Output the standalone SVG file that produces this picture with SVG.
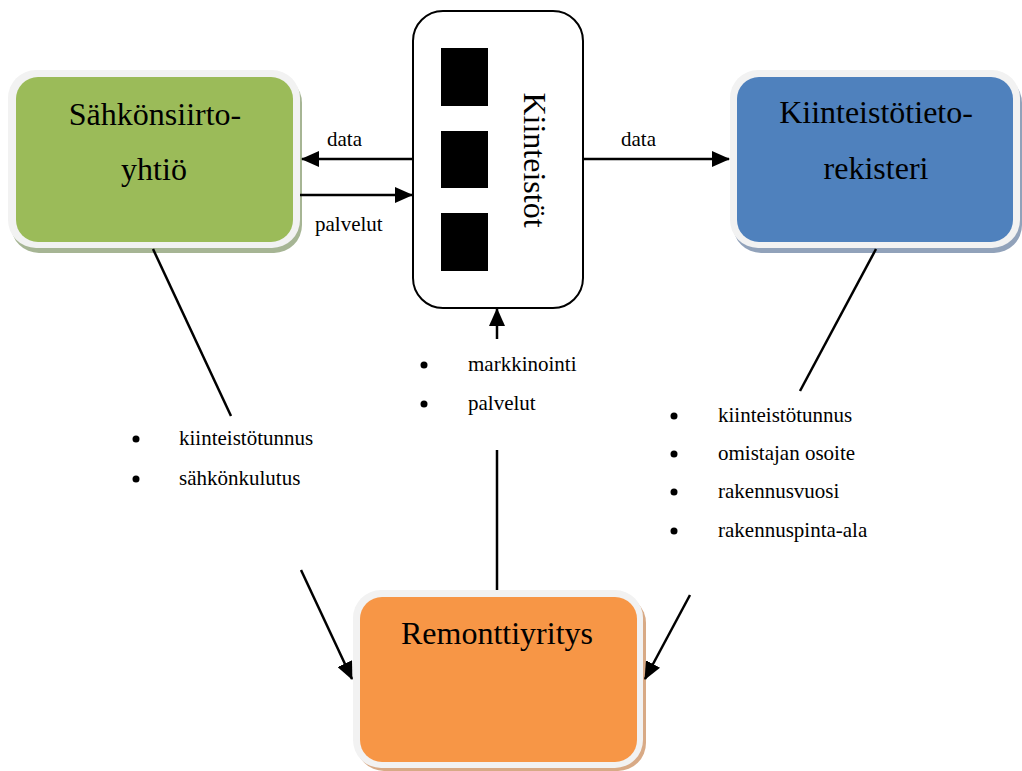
<svg xmlns="http://www.w3.org/2000/svg" width="1022" height="771" viewBox="0 0 1022 771">
  <style>
    .title { font-family: "Liberation Serif", "Times New Roman", serif; font-size: 32px; fill: #000; text-anchor: middle; }
    .lbl { font-family: "Liberation Serif", "Times New Roman", serif; font-size: 21px; fill: #000; }
    .frame { fill: #f2f2f2; }
    .line { stroke: #000; stroke-width: 2.5; fill: none; }
    .bullet { fill: #000; }
  </style>
  <defs>
    <marker id="arrow" markerUnits="userSpaceOnUse" markerWidth="18" markerHeight="16" viewBox="0 0 18 16" refX="17" refY="8" orient="auto">
      <path d="M0,0 L18,8 L0,16 Z" fill="#000"/>
    </marker>
  </defs>

  <rect width="1022" height="771" fill="#fff"/>

  <!-- Sähkönsiirtoyhtiö -->
  <g id="sahkonsiirtoyhtio">
    <rect x="11" y="75" width="291" height="178" rx="28" fill="#a6b594"/>
    <rect class="frame" x="8" y="70" width="292" height="178" rx="28"/>
    <rect x="16" y="77" width="277" height="165" rx="22" fill="#9bbb59"/>
    <text class="title" x="155" y="125">Sähkönsiirto-</text>
    <text class="title" x="154" y="180">yhtiö</text>
  </g>

  <!-- Kiinteistötietorekisteri -->
  <g id="kiinteistotietorekisteri">
    <rect x="733" y="75" width="289" height="178" rx="28" fill="#91a2ba"/>
    <rect class="frame" x="730" y="70" width="290" height="178" rx="28"/>
    <rect x="737" y="77" width="276" height="165" rx="22" fill="#4f81bd"/>
    <text class="title" x="876" y="123">Kiinteistötieto-</text>
    <text class="title" x="876" y="179">rekisteri</text>
  </g>

  <!-- Remonttiyritys -->
  <g id="remonttiyritys">
    <rect x="356" y="595" width="290" height="176" rx="28" fill="#d8aa86"/>
    <rect class="frame" x="353" y="590" width="290" height="178" rx="28"/>
    <rect x="360" y="597" width="277" height="165" rx="22" fill="#f79646"/>
    <text class="title" x="497" y="644">Remonttiyritys</text>
  </g>

  <!-- Kiinteistöt -->
  <g id="kiinteistot">
    <rect x="413" y="11" width="170" height="297" rx="30" fill="#fff" stroke="#000" stroke-width="2"/>
    <rect x="441" y="48" width="47" height="58" fill="#000"/>
    <rect x="441" y="131" width="47" height="57" fill="#000"/>
    <rect x="441" y="213" width="47" height="58" fill="#000"/>
    <text class="title" transform="translate(524,160) rotate(90)" x="0" y="0">Kiinteistöt</text>
  </g>

  <!-- Connectors -->
  <g id="connectors">
    <line class="line" x1="413" y1="159" x2="302" y2="159" marker-end="url(#arrow)"/>
    <line class="line" x1="300" y1="195" x2="412" y2="195" marker-end="url(#arrow)"/>
    <line class="line" x1="583" y1="159" x2="729" y2="159" marker-end="url(#arrow)"/>
    <line class="line" x1="497" y1="339" x2="497" y2="309" marker-end="url(#arrow)"/>
    <line class="line" x1="497" y1="450" x2="497" y2="590"/>
    <line class="line" x1="153" y1="249" x2="231" y2="416"/>
    <line class="line" x1="301" y1="570" x2="352" y2="679" marker-end="url(#arrow)"/>
    <line class="line" x1="876" y1="249" x2="800" y2="391"/>
    <line class="line" x1="690" y1="595" x2="645" y2="679" marker-end="url(#arrow)"/>
  </g>

  <!-- Connector labels -->
  <g id="labels">
    <text class="lbl" x="327" y="146">data</text>
    <text class="lbl" x="315" y="231">palvelut</text>
    <text class="lbl" x="621" y="146">data</text>
  </g>

  <!-- Bullet lists -->
  <g id="list-sahko">
    <circle class="bullet" cx="136" cy="439" r="3.5"/>
    <text class="lbl" x="179" y="445">kiinteistötunnus</text>
    <circle class="bullet" cx="136" cy="479" r="3.5"/>
    <text class="lbl" x="179" y="485">sähkönkulutus</text>
  </g>
  <g id="list-kiinteistot">
    <circle class="bullet" cx="424" cy="365" r="3.5"/>
    <text class="lbl" x="468" y="371">markkinointi</text>
    <circle class="bullet" cx="424" cy="404" r="3.5"/>
    <text class="lbl" x="468" y="410">palvelut</text>
  </g>
  <g id="list-rekisteri">
    <circle class="bullet" cx="674" cy="416" r="3.5"/>
    <text class="lbl" x="718" y="422">kiinteistötunnus</text>
    <circle class="bullet" cx="674" cy="454" r="3.5"/>
    <text class="lbl" x="718" y="460">omistajan osoite</text>
    <circle class="bullet" cx="674" cy="492" r="3.5"/>
    <text class="lbl" x="718" y="498">rakennusvuosi</text>
    <circle class="bullet" cx="674" cy="531" r="3.5"/>
    <text class="lbl" x="718" y="537">rakennuspinta-ala</text>
  </g>
</svg>
